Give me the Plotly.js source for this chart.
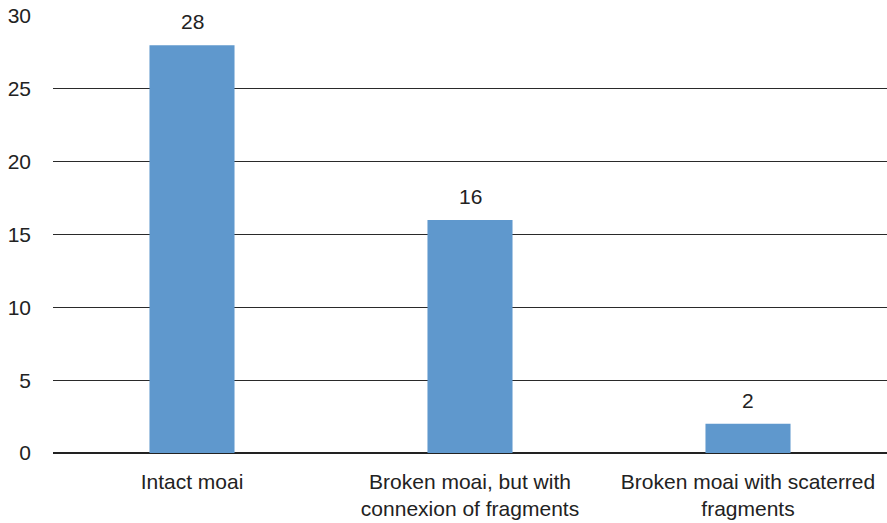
<!DOCTYPE html>
<html>
<head>
<meta charset="utf-8">
<script src="https://cdn.plot.ly/plotly-3.0.1.min.js"></script>
<style>html,body{margin:0;padding:0;background:#fff;}#chart{width:887px;height:523px;}</style>
</head>
<body>
<div id="chart"></div>
<script>
const categories = ["Intact moai", "Broken moai, but with<br>connexion of fragments", "Broken moai with scaterred<br>fragments"];
const values = [28, 16, 2];
const yTicks = [0, 5, 10, 15, 20, 25, 30];

const font = {family: "Liberation Sans, Arial, Helvetica, sans-serif", size: 21, color: "#222"};

const trace = {
  type: "bar",
  x: categories,
  y: values,
  marker: {color: "#5f98cd"},
  hoverinfo: "none"
};

const annotations = categories.map((c, i) => ({
  x: c, y: values[i], xref: "x", yref: "y",
  text: String(values[i]), showarrow: false,
  yanchor: "bottom", yshift: 10, font: font
}));

const layout = {
  width: 887, height: 523,
  margin: {l: 53, r: 0, t: 16, b: 70},
  paper_bgcolor: "#fff", plot_bgcolor: "#fff",
  font: font,
  bargap: 0.694,
  showlegend: false,
  xaxis: {
    type: "category", showgrid: false, zeroline: false, showline: false,
    ticks: "", tickfont: font, ticklabelstandoff: 14
  },
  yaxis: {
    range: [0, 30], tickvals: yTicks, ticktext: yTicks.map(String),
    showgrid: true, gridcolor: "#2a2a2a", gridwidth: 1,
    zeroline: true, zerolinecolor: "#222", zerolinewidth: 1.5,
    showline: false, ticks: "", tickfont: font, ticklabelstandoff: 21
  },
  annotations: annotations
};

Plotly.newPlot("chart", [trace], layout, {displayModeBar: false, staticPlot: true});
</script>
</body>
</html>
